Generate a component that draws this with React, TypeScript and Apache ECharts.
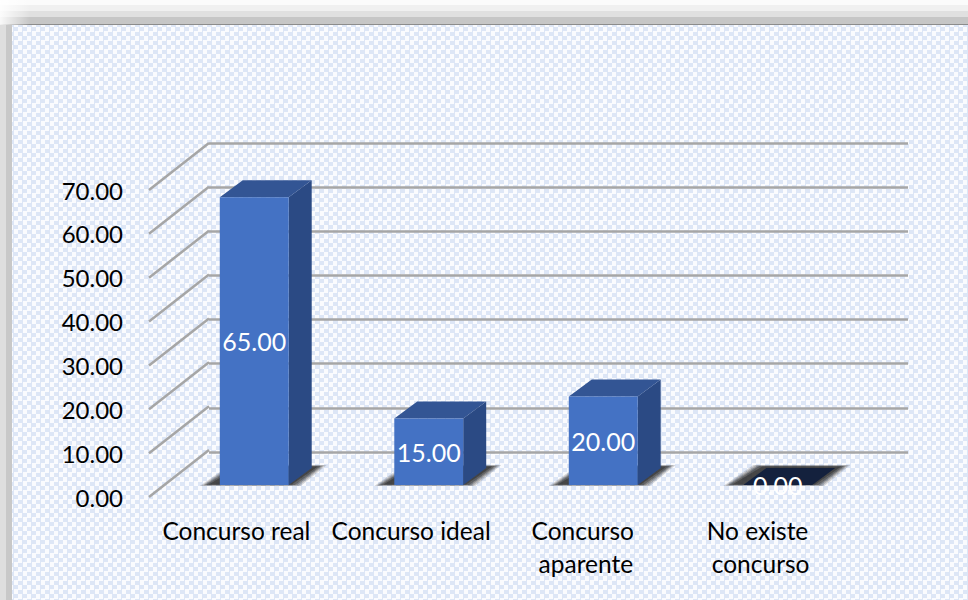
import React, { useEffect, useRef } from "react";
import * as echarts from "echarts";

const categories = ["Concurso real", "Concurso ideal", "Concurso aparente", "No existe concurso"];
const barValues = [65, 15, 20, 0];
const tickValues = [0, 10, 20, 30, 40, 50, 60, 70];

const FONT = "Lato, 'Open Sans', sans-serif";
const DEPTH_X = 23;
const DEPTH_Y = 17;
const WALL_X = 60;
const WALL_Y = 47;
const GRID_LINE = "#a6a6a6";

const poly = (points: number[][], fill: string, extra: object = {}) => ({
  type: "polygon",
  shape: { points },
  style: { fill, ...extra },
});

// Stacked translucent parallelograms give the floor shadow its soft edge.
function floorShadow(l: number, r: number, base: number) {
  const layers = [
    { grow: 0, opacity: 0.18 },
    { grow: -2, opacity: 0.22 },
    { grow: -4, opacity: 0.3 },
    { grow: -6, opacity: 0.4 },
    { grow: -9, opacity: 0.55 },
  ];
  return layers.map(({ grow, opacity }) => {
    const inset = (-grow / 9) * 1.5;
    return poly(
      [
        [l - 20 - grow, base + 1 - inset],
        [r + 12 + grow, base + 1 - inset],
        [r + 38 + grow, base - DEPTH_Y - 3 + inset],
        [l + DEPTH_X - 13 - grow, base - DEPTH_Y - 3 + inset],
      ],
      "#2e2e2e",
      { opacity }
    );
  });
}

// One extruded column: floor shadow, side, top, front and the value label.
function renderBar(_: any, api: any) {
  const idx = api.value(0);
  const value = api.value(1);
  const [cx, top] = api.coord([idx, value]);
  const [, base] = api.coord([idx, 0]);
  const w = api.size([1, 0])[0] * 0.395;
  const l = cx - w / 2;
  const r = cx + w / 2;
  const empty = value === 0;
  const children: any[] = floorShadow(l, r, base);
  if (!empty) {
    children.push(
      poly(
        [
          [r, base],
          [r + DEPTH_X, base - DEPTH_Y],
          [r + DEPTH_X, top - DEPTH_Y],
          [r, top],
        ],
        "#2b4a84"
      )
    );
  }
  children.push(
    poly(
      [
        [l, top],
        [l + DEPTH_X, top - DEPTH_Y],
        [r + DEPTH_X, top - DEPTH_Y],
        [r, top],
      ],
      empty ? "#14213d" : "#335594"
    )
  );
  if (!empty) {
    children.push({
      type: "rect",
      shape: { x: l, y: top, width: w, height: base - top },
      style: { fill: "#4472c4" },
    });
  }
  children.push({
    type: "text",
    x: cx,
    y: (top + base) / 2,
    style: {
      text: value.toFixed(2),
      fill: "#ffffff",
      font: `25px ${FONT}`,
      align: "center",
      verticalAlign: "middle",
    },
  });
  return { type: "group", children };
}

// Slanted side-wall line running from the front axis back to the rear wall.
function renderWallLine(_: any, api: any) {
  const [cx, y] = api.coord([0, api.value(0)]);
  const x = cx - api.size([1, 0])[0] / 2;
  return {
    type: "line",
    shape: { x1: x, y1: y, x2: x + WALL_X, y2: y - WALL_Y },
    style: { stroke: GRID_LINE, lineWidth: 2.5 },
  };
}

const band = (x: number, y: number, width: number, height: number, fill: any) => ({
  type: "rect",
  shape: { x, y, width, height },
  style: { fill },
  silent: true,
});

const cornerFade = {
  type: "linear",
  x: 0,
  y: 0,
  x2: 1,
  y2: 0,
  colorStops: [
    { offset: 0, color: "rgba(255,255,255,0.9)" },
    { offset: 1, color: "rgba(255,255,255,0)" },
  ],
};

export default function App() {
  const ref = useRef<HTMLDivElement>(null);
  useEffect(() => {
    document.body.style.margin = "0";
    const chart = echarts.init(ref.current!, null, { renderer: "svg" });
    chart.setOption({
      animation: false,
      backgroundColor: "transparent",
      grid: [
        { left: 209, top: 143, width: 699, height: 309 },
        { left: 149, top: 190, width: 699, height: 307 },
        { left: 167, top: 175, width: 698, height: 310 },
      ],
      xAxis: [
        { gridIndex: 0, type: "category", data: categories, show: false },
        {
          gridIndex: 1,
          type: "category",
          data: categories,
          axisLine: { show: false },
          axisTick: { show: false },
          axisLabel: {
            color: "#000000",
            fontFamily: FONT,
            fontSize: 24.5,
            lineHeight: 33,
            margin: 17,
            width: 170,
            overflow: "break",
            interval: 0,
          },
        },
        { gridIndex: 2, type: "category", data: categories, show: false },
      ],
      yAxis: [
        {
          gridIndex: 0,
          type: "value",
          min: 0,
          max: 70,
          interval: 10,
          axisLine: { show: false },
          axisTick: { show: false },
          axisLabel: { show: false },
          splitLine: { lineStyle: { color: GRID_LINE, width: 2.5 } },
        },
        {
          gridIndex: 1,
          type: "value",
          min: 0,
          max: 70,
          interval: 10,
          splitLine: { show: false },
          axisLine: { show: false },
          axisTick: { show: false },
          axisLabel: {
            color: "#000000",
            fontFamily: FONT,
            fontSize: 24,
            margin: 26,
            formatter: (v: number) => v.toFixed(2),
          },
        },
        { gridIndex: 2, type: "value", min: 0, max: 70, show: false, splitLine: { show: false } },
      ],
      series: [
        {
          type: "custom",
          xAxisIndex: 1,
          yAxisIndex: 1,
          clip: false,
          data: tickValues.map((v) => [v]),
          encode: { y: 0 },
          renderItem: renderWallLine,
        },
        {
          type: "custom",
          xAxisIndex: 2,
          yAxisIndex: 2,
          clip: false,
          data: barValues.map((v, i) => [i, v]),
          encode: { x: 0, y: 1 },
          renderItem: renderBar,
        },
      ],
      graphic: {
        elements: [
          band(0, 0, 968, 5, "#fbfbfb"),
          band(0, 5, 968, 6, "#f0f0f0"),
          band(0, 11, 968, 6, "#e0e0e0"),
          band(0, 17, 968, 7, "#c6c6c6"),
          band(0, 24, 968, 1, "#8c8c8c"),
          band(0, 25, 6, 575, "#dedede"),
          band(6, 25, 6, 575, "#c8c8c8"),
          band(0, 0, 30, 25, cornerFade),
        ],
      },
    });
    return () => chart.dispose();
  }, []);
  return (
    <div
      ref={ref}
      style={{
        position: "absolute",
        left: 0,
        top: 0,
        width: 968,
        height: 600,
        backgroundImage: "repeating-conic-gradient(#dde6f6 0 25%, #fafbfe 0 50%)",
        backgroundSize: "9px 9px",
      }}
    />
  );
}
